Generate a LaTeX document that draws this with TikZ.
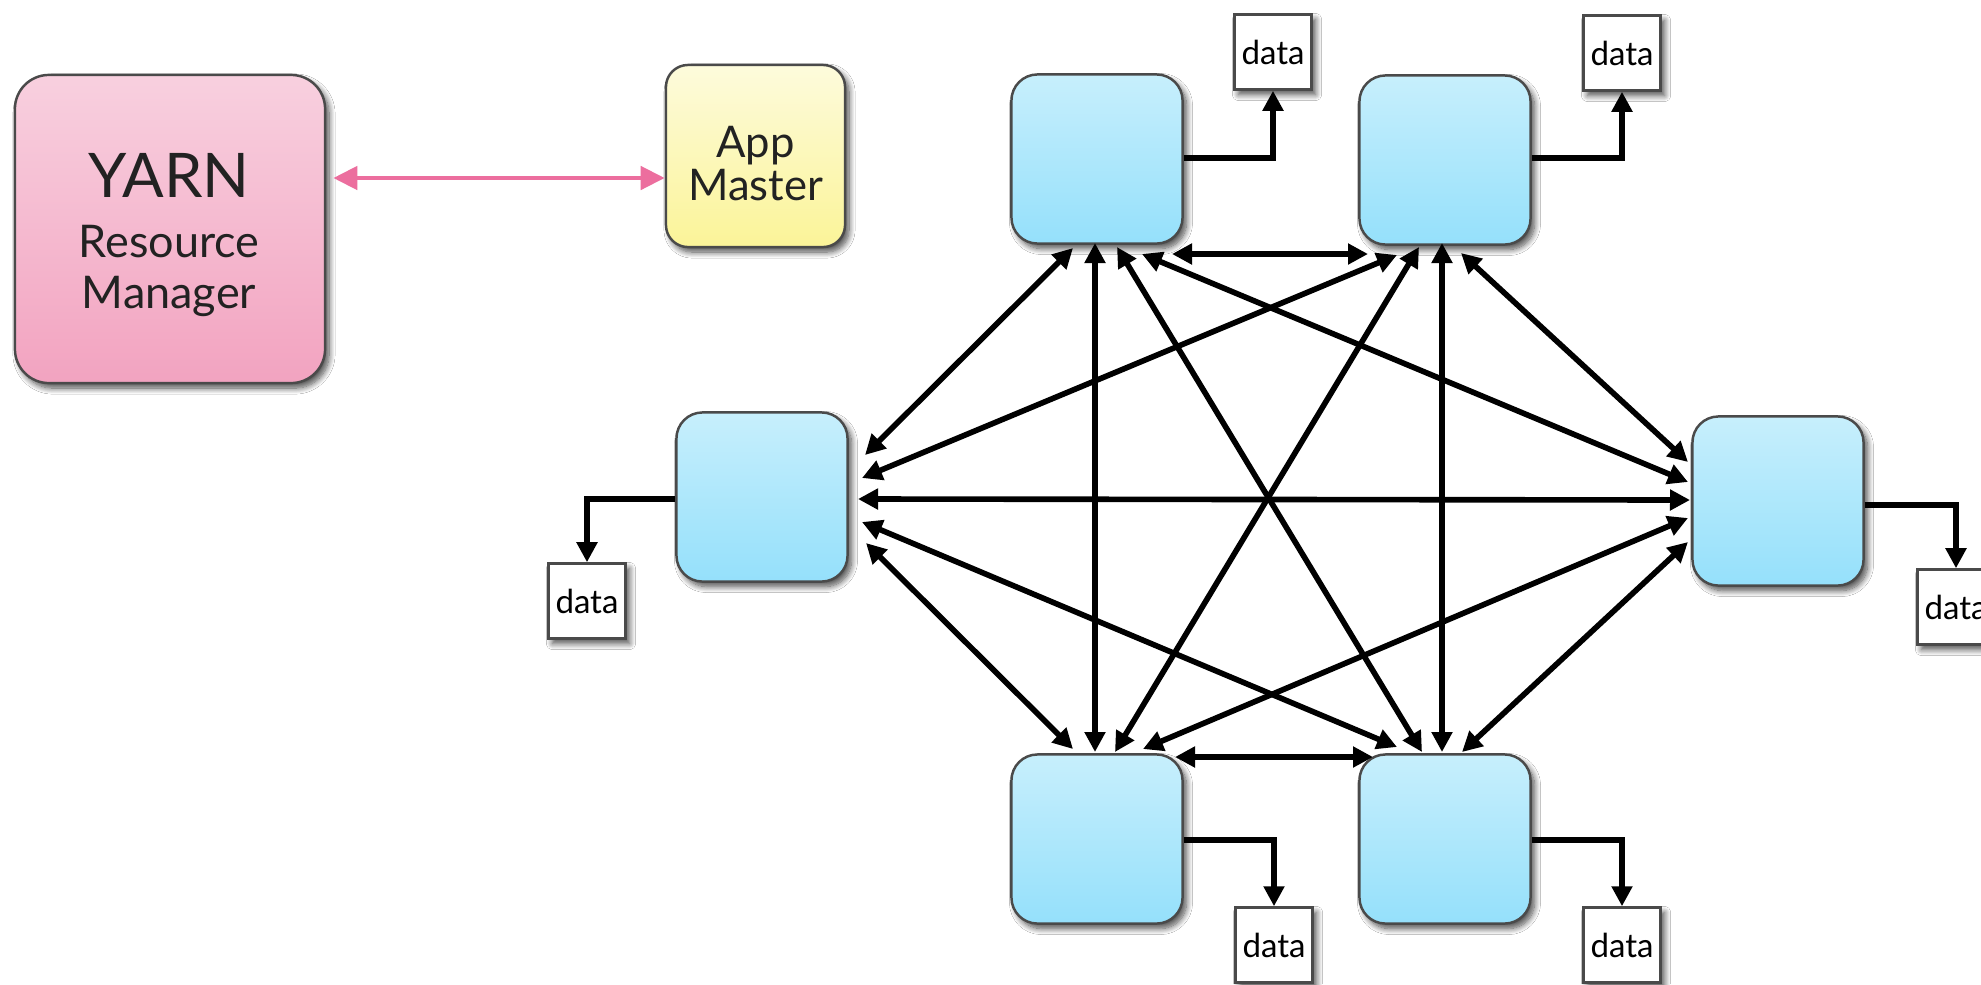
\documentclass[tikz,border=0pt]{standalone}
\usepackage{fontspec}
\setmainfont{Lato}
\usetikzlibrary{arrows.meta,calc,shadows.blur}

\definecolor{edgegray}{HTML}{4A4A4A}
\definecolor{rmtop}{HTML}{F8D0DF}
\definecolor{rmbot}{HTML}{F2A3C0}
\definecolor{amtop}{HTML}{FDFBDC}
\definecolor{ambot}{HTML}{FBF498}
\definecolor{wtop}{HTML}{C7EFFC}
\definecolor{wbot}{HTML}{95E0FB}
\definecolor{linkpink}{HTML}{EC6E9E}
\definecolor{inkdark}{HTML}{222222}

\begin{document}
\begin{tikzpicture}[x=0.01cm,y=-0.01cm,
  softshadow/.style={blur shadow={shadow xshift=0.04cm,shadow yshift=-0.05cm,
      shadow blur radius=0.06cm,shadow blur steps=10,shadow opacity=70}},
  box/.style={draw=edgegray,line width=0.7pt,inner sep=0pt,softshadow},
  rmbox/.style={box,rounded corners=0.34cm,minimum width=3.10cm,minimum height=3.08cm,
      top color=rmtop,bottom color=rmbot},
  ambox/.style={box,rounded corners=0.22cm,minimum width=1.79cm,minimum height=1.82cm,
      top color=amtop,bottom color=ambot},
  worker/.style={box,rounded corners=0.26cm,minimum width=1.71cm,minimum height=1.69cm,
      top color=wtop,bottom color=wbot},
  databox/.style={draw=edgegray,line width=0.7pt,fill=white,inner sep=0pt,
      minimum width=0.77cm,minimum height=0.75cm,softshadow,
      font=\fontsize{9.4}{10}\selectfont,text=black},
  bigtext/.style={anchor=base,text=inkdark,inner sep=0pt,font=\fontsize{17.5}{17}\selectfont},
  midtext/.style={anchor=base,text=inkdark,inner sep=0pt,font=\fontsize{12.8}{13}\selectfont},
  amtext/.style={anchor=base,text=inkdark,inner sep=0pt,font=\fontsize{12.4}{13}\selectfont},
  mesh/.style={line width=1.6pt,
      {Triangle[length=0.2cm,width=0.2cm]}-{Triangle[length=0.2cm,width=0.2cm]}},
  store/.style={line width=1.6pt,-{Triangle[length=0.2cm,width=0.2cm]}},
  rmlink/.style={draw=linkpink,line width=1.3pt,
      {Triangle[length=0.24cm,width=0.23cm]}-{Triangle[length=0.24cm,width=0.23cm]}}
]
\clip (0,0) rectangle (1981,984);
\fill[white] (0,0) rectangle (1981,984);

% resource manager and application master
\node[rmbox] (RM) at (170,229) {};
\node[bigtext] (rmA) at (169,197) {YARN};
\node[midtext] (rmB) at (169,257) {Resource};
\node[midtext] (rmC) at (169,308) {Manager};

\node[ambox] (AM) at (755.5,156) {};
\node[amtext] (amA) at (755.5,157) {App};
\node[amtext] (amB) at (755.5,200) {Master};

\draw[rmlink] ($(RM.east)+(7,-51)$) -- ($(AM.west)+(0,22)$);

% worker containers
\node[worker] (TL) at (1097,159) {};
\node[worker] (TR) at (1445,160) {};
\node[worker] (L)  at (762,497) {};
\node[worker] (R)  at (1778,501) {};
\node[worker] (BL) at (1097,839) {};
\node[worker] (BR) at (1445,839) {};

% data stores
\node[databox] (dTL) at (1273,52) {data};
\node[databox] (dTR) at (1622,53) {data};
\node[databox] (dL)  at (587,601) {data};
\node[databox] (dR)  at (1956,607) {data};
\node[databox] (dBL) at (1274,945) {data};
\node[databox] (dBR) at (1622,945) {data};

\draw[store] ($(TL.east)+(0,-1)$) -| (dTL.south);
\draw[store] ($(TR.east)+(0,-2)$) -| (dTR.south);
\draw[store] ($(L.west)+(0,2)$) -| (dL.north);
\draw[store] ($(R.east)+(0,4)$) -| (dR.north);
\draw[store] ($(BL.east)+(0,1)$) -| (dBL.north);
\draw[store] ($(BR.east)+(0,1)$) -| (dBR.north);

% all-to-all links between containers
\draw[mesh] ($(TL)+(-24,89)$) -- ($(L)+(103,-42)$);
\draw[mesh] ($(TL)+(-2,84)$)  -- ($(BL)+(-2,-87)$);
\draw[mesh] ($(TL)+(20,88)$)  -- ($(BR)+(-23,-87)$);
\draw[mesh] ($(TL)+(45,95)$)  -- ($(R)+(-90,-19)$);
\draw[mesh] ($(TL)+(75,95)$)  -- ($(TR)+(-77,94)$);
\draw[mesh] ($(TR)+(-48,95)$) -- ($(L)+(100,-19)$);
\draw[mesh] ($(TR)+(-26,87)$) -- ($(BL)+(18,-87)$);
\draw[mesh] ($(TR)+(-3,83)$)  -- ($(BR)+(-3,-87)$);
\draw[mesh] ($(TR)+(16,93)$)  -- ($(R)+(-90,-39)$);
\draw[mesh] ($(L)+(96,2)$)    -- ($(R)+(-88,-1)$);
\draw[mesh] ($(L)+(100,25)$)  -- ($(BR)+(-48,-92)$);
\draw[mesh] ($(L)+(104,46)$)  -- ($(BL)+(-24,-90)$);
\draw[mesh] ($(R)+(-90,17)$)  -- ($(BL)+(46,-90)$);
\draw[mesh] ($(R)+(-90,41)$)  -- ($(BR)+(17,-87)$);
\draw[mesh] ($(BL)+(78,-82)$) -- ($(BR)+(-72,-82)$);
\end{tikzpicture}
\end{document}
